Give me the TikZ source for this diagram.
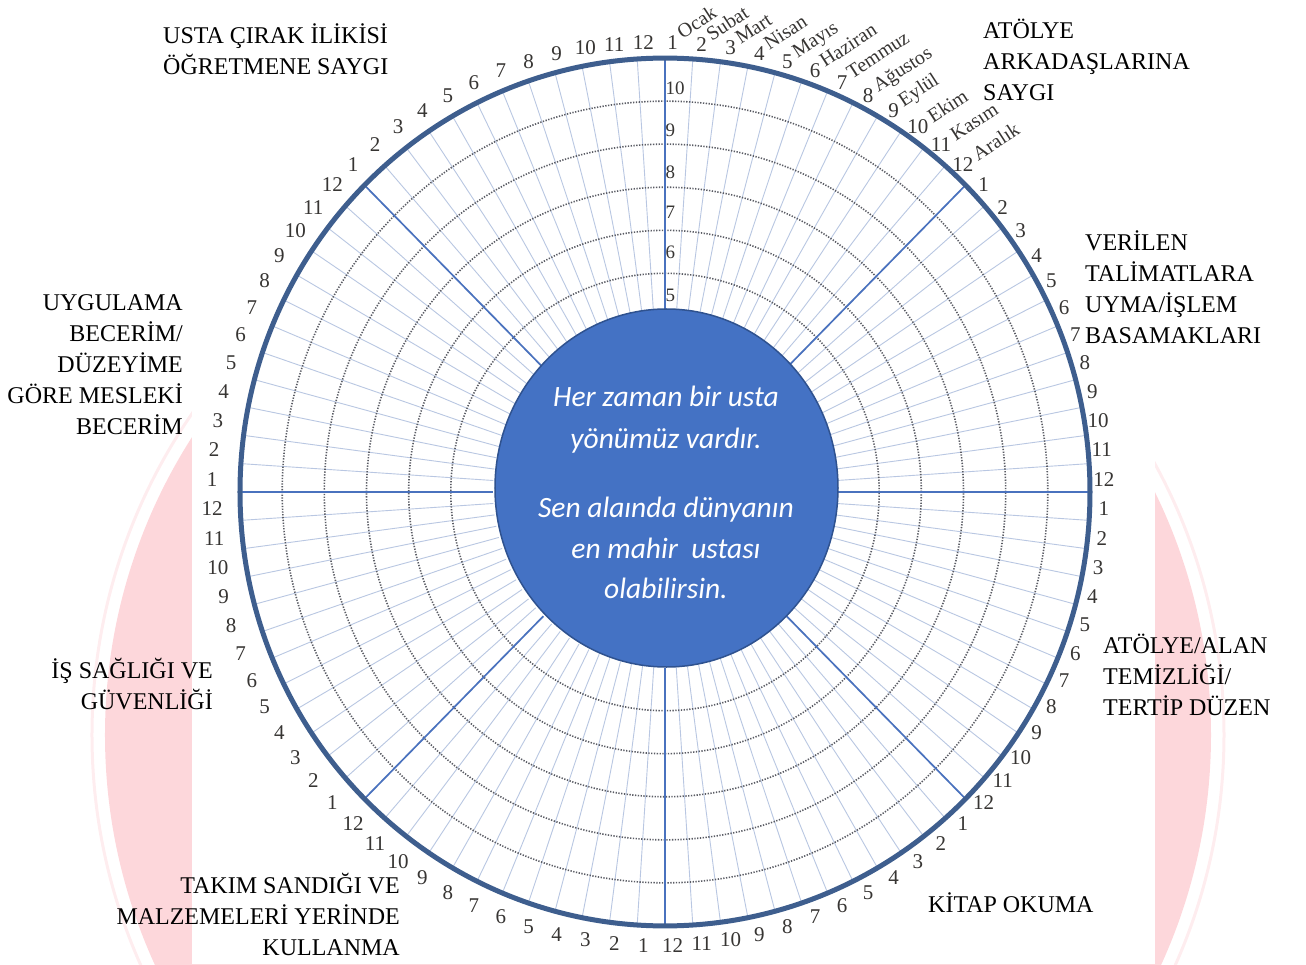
\documentclass[tikz,border=0pt]{standalone}
\usepackage{fontspec}
\setmainfont{Liberation Serif}
\newfontfamily\centrefont{Carlito}
\definecolor{rimblue}{RGB}{62,94,142}
\definecolor{spokeblue}{RGB}{74,114,190}
\definecolor{thinline}{RGB}{185,199,226}
\definecolor{dotgray}{RGB}{90,92,100}
\definecolor{hubblue}{RGB}{68,114,196}
\definecolor{hubedge}{RGB}{47,82,143}
\definecolor{wmpink}{RGB}{253,215,219}
\definecolor{numgray}{RGB}{55,53,51}
\begin{document}
\begin{tikzpicture}[x=1pt,y=1pt,
  lab/.style={font=\fontsize{24}{31}\selectfont, inner sep=0pt},
  num/.style={font=\fontsize{21}{21}\selectfont, text=numgray, inner sep=0pt},
  mon/.style={font=\fontsize{20}{20}\selectfont, text=numgray, inner sep=0pt, rotate=33, anchor=base west},
  ringnum/.style={font=\fontsize{19}{19}\selectfont, text=numgray, inner sep=0.5pt, anchor=west},
  ctext/.style={font=\centrefont\itshape\fontsize{29.5}{29.5}\selectfont, text=white, inner sep=0pt, anchor=base}
]
\useasboundingbox (-665,-472) rectangle (641,492);
% watermark
\begin{scope}
  \clip (-665,-472) rectangle (641,492);
  \fill[wmpink] (-7,-243) circle (553);
  \draw[wmpink!45, line width=3] (-7,-243) circle (566);
  \fill[white] (-473,-472) rectangle (490,492);
\end{scope}
% wheel
\begin{scope}[yscale=1.021]
  \foreach \i in {0,...,95} \draw[thinline, line width=0.9] (\i*3.75:172) -- (\i*3.75:425);
  \foreach \r in {214.2,256.3,298.5,340.7,382.8}
    \draw[dotgray, line width=1.6, dash pattern=on 1.3pt off 1.5pt] (0,0) circle (\r);
  \foreach \a in {0,45,...,315} \draw[spokeblue, line width=1.7] (\a:172) -- (\a:425);
  \draw[rimblue, line width=5] (0,0) circle (425);
\end{scope}
% hub
\fill[hubblue, draw=hubedge, line width=1.5] (1.5,4) ellipse [x radius=171.5, y radius=179];
\node[ctext] (c1) at (1,85) {Her zaman bir usta};
\node[ctext] (c2) at (1,44) {yönümüz vardır.};
\node[ctext] (c3) at (1,-25) {Sen alaında dünyanın};
\node[ctext] (c4) at (1,-66) {en mahir\ \ ustası};
\node[ctext] (c5) at (1,-106) {olabilirsin.};
% ring numbers
\node[ringnum] (r10) at (0,404) {10};
\node[ringnum] (r9) at (0,362) {9};
\node[ringnum] (r8) at (0,320) {8};
\node[ringnum] (r7) at (0,280) {7};
\node[ringnum] (r6) at (0,240) {6};
\node[ringnum] (r5) at (0,197) {5};
% outer numbers
\foreach \s in {0,...,7}{
  \foreach \k in {1,...,12}{
    \pgfmathsetmacro{\th}{90-45*\s-3.75*(\k-0.5)}
    \node[num] (n-\s-\k) at ({-7+446*cos(\th)},{-2+452*sin(\th)}) {\k};
  }
}
% months
\foreach \k/\m in {1/Ocak,2/Subat,3/Mart,4/Nisan,5/Mayıs,6/Haziran,7/Temmuz,8/Ağustos,9/Eylül,10/Ekim,11/Kasım,12/Aralık}
  \node[mon] (m-\k) at ([xshift=4.5pt,yshift=3pt]n-0-\k.east) {\m};
% labels
\node[lab, align=left, anchor=north west] (l1) at (-502,470.7) {\strut USTA ÇIRAK İLİKİSİ\\ÖĞRETMENE SAYGI};
\node[lab, align=left, anchor=north west] (l2) at (318,475.7) {\strut ATÖLYE\\ARKADAŞLARINA\\SAYGI};
\node[lab, align=left, anchor=north west] (l3) at (420,263.7) {\strut VERİLEN\\TALİMATLARA\\UYMA/İŞLEM\\BASAMAKLARI};
\node[lab, align=left, anchor=north west] (l4) at (438,-139.3) {\strut ATÖLYE/ALAN\\TEMİZLİĞİ/\\TERTİP DÜZEN};
\node[lab, align=left, anchor=north west] (l5) at (263,-398.3) {\strut KİTAP OKUMA};
\node[lab, align=right, anchor=north east] (l6) at (-265,-379.3) {\strut TAKIM SANDIĞI VE\\MALZEMELERİ YERİNDE\\KULLANMA};
\node[lab, align=right, anchor=north east] (l7) at (-452,-164.3) {\strut İŞ SAĞLIĞI VE\\GÜVENLİĞİ};
\node[lab, align=right, anchor=north east] (l8) at (-482,203.7) {\strut UYGULAMA\\BECERİM/\\DÜZEYİME\\GÖRE MESLEKİ\\BECERİM};
\end{tikzpicture}
\end{document}
